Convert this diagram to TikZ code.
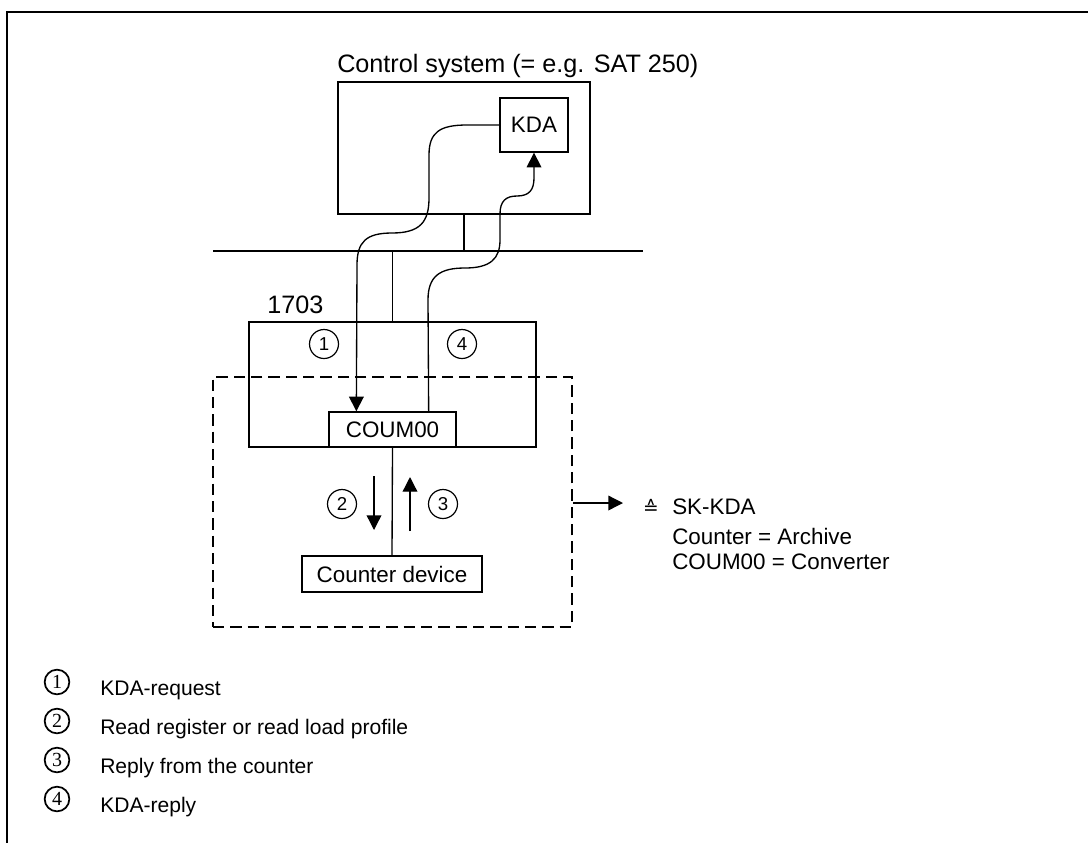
\documentclass[tikz,border=0pt]{standalone}
\usepackage{fontspec}
\setmainfont{Liberation Sans}
\newfontfamily\serifdigits{Liberation Serif}
\newfontfamily\symfont{DejaVu Sans}
\usetikzlibrary{arrows.meta,calc}
\begin{document}
\begin{tikzpicture}[x=0.75pt,y=-0.75pt,
  box/.style={draw, line width=1pt, inner sep=0pt, font=\fontsize{16.8}{20}\selectfont},
  lbl/.style={inner sep=0pt, font=\fontsize{16.8}{20}\selectfont},
  biglbl/.style={inner sep=0pt, font=\fontsize{18.9}{22}\selectfont},
  leglbl/.style={inner sep=0pt, font=\fontsize{15.8}{19}\selectfont},
  num/.style={draw, circle, line width=0.9pt, minimum size=21.75pt, inner sep=0pt, font=\fontsize{14}{15}\selectfont},
  legnum/.style={draw, circle, line width=1.3pt, minimum size=18.5pt, inner sep=0pt, font=\serifdigits\fontsize{15}{16}\selectfont},
  wire/.style={line width=1pt},
  tipd/.style={-{Triangle[width=11pt,length=11pt]}},
  frameline/.style={line width=1.6pt},
  dashbox/.style={draw, line width=1.7pt, dash pattern=on 8.5pt off 4.5pt, inner sep=0pt}
]
\useasboundingbox (0,0) rectangle (1088,843);

% frame
\coordinate (fTL) at (7,12);
\coordinate (fTR) at (1088,12);
\coordinate (fBL) at (7,843);
\draw[frameline] (fTR) -- (fTL) -- (fBL);

% control system
\node[biglbl, anchor=base west] (title) at (337,72) {Control system (= e.g. SAT 250)};
\node[box, minimum width=189pt, minimum height=99pt] (ctrl) at (464,148) {};
\node[box, minimum width=51pt, minimum height=40.5pt] (kda) at (534,125) {KDA};

% bus
\coordinate (busL) at (213,251);
\coordinate (busR) at (643,251);
\draw[wire] (busL) -- (busR);

% 1703 box
\node[biglbl, anchor=base west] (l1703) at (267,313) {1703};
\node[box, minimum width=215.25pt, minimum height=93.75pt] (b1703) at (392.5,384.5) {};
\node[box, fill=white, minimum width=95.25pt, minimum height=26.25pt] (coum) at (392.5,429.5) {COUM00};
\node[box, minimum width=135pt, minimum height=27pt] (counter) at (392,574) {Counter device};

\draw[wire] (ctrl.south) -- (ctrl.south |- busL);
\draw[wire] (b1703.north |- busL) -- (b1703.north);
\draw[wire] (coum.south) -- (counter.north);

% dashed box
\node[dashbox, minimum width=269.25pt, minimum height=187.5pt] (dash) at (392.5,502) {};

% circled numbers
\node[num] (c1) at (324,344) {1};
\node[num] (c4) at (462,344) {4};
\node[num] (c2) at (342,504) {2};
\node[num] (c3) at (443,504) {3};

% arrows 2 and 3
\coordinate (a2s) at (374,476);
\coordinate (a2e) at (374,530);
\coordinate (a3s) at (410,531);
\coordinate (a3e) at (410,477);
\draw[wire, tipd] (a2s) -- (a2e);
\draw[wire, tipd] (a3s) -- (a3e);

% request path (1)
\coordinate (coumIn) at ([xshift=21pt]coum.north west);
\draw[wire, tipd] (kda.west) -- (467,125)
  .. controls (440,125) and (429,132) .. (429,155) -- (429,198)
  .. controls (429,222) and (420,233) .. (392,233)
  .. controls (366,233) and (357,242) .. (357,265) -- (coumIn);

% reply path (4)
\coordinate (coumOut) at ([xshift=-21pt]coum.north east);
\draw[wire, tipd] (coumOut) -- (428,300)
  .. controls (428,276) and (440,268) .. (465,268)
  .. controls (490,268) and (500,259) .. (500,240) -- (500,214)
  .. controls (500,201) and (506,196) .. (517,196)
  .. controls (529,196) and (534,190) .. (534,178) -- (kda.south);

% SK-KDA
\coordinate (skS) at (dash.east |- 0,503);
\coordinate (skE) at (623,503);
\draw[wire, tipd] (skS) -- (skE);
\node[inner sep=0pt, font=\symfont\fontsize{14}{15}\selectfont] (corr) at (651,507) {≙};
\node[lbl, anchor=base west] (sk1) at (672,514) {SK-KDA};
\node[lbl, anchor=base west] (sk2) at (672,544) {Counter = Archive};
\node[lbl, anchor=base west] (sk3) at (672,569) {COUM00 = Converter};

% legend
\node[legnum] (g1) at (57,682) {1};
\node[legnum] (g2) at (57,721) {2};
\node[legnum] (g3) at (57,760) {3};
\node[legnum] (g4) at (57,799) {4};
\node[leglbl, anchor=base west] (t1) at (100,695) {KDA-request};
\node[leglbl, anchor=base west] (t2) at (100,734) {Read register or read load profile};
\node[leglbl, anchor=base west] (t3) at (100,773) {Reply from the counter};
\node[leglbl, anchor=base west] (t4) at (100,812) {KDA-reply};
\end{tikzpicture}
\end{document}
